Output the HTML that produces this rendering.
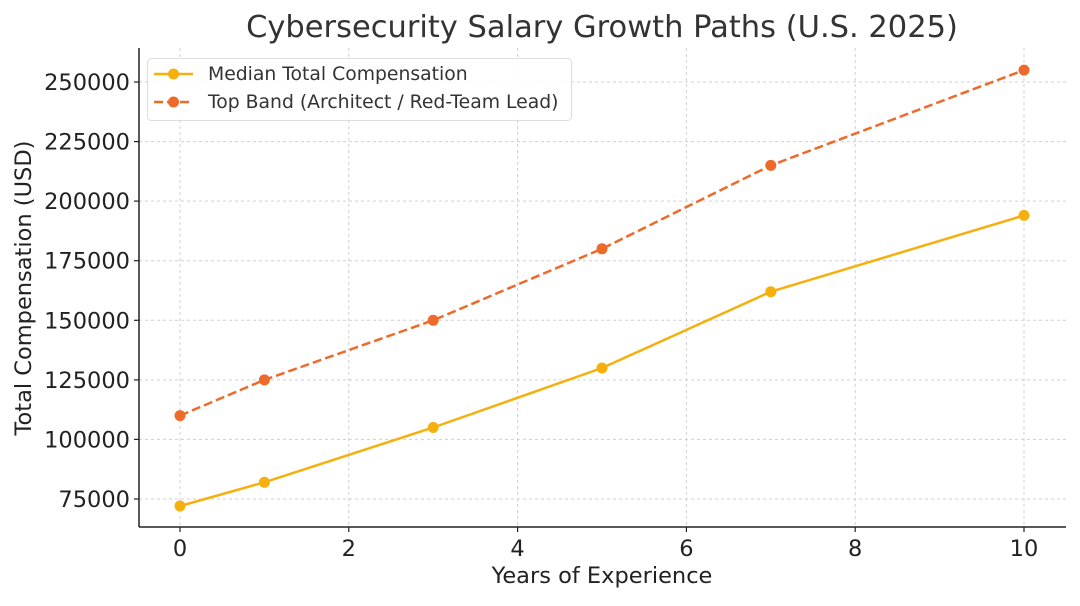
<!DOCTYPE html><html><head><style>body{margin:0;background:#fff}svg{font-family:"DejaVu Sans","Liberation Sans",sans-serif}</style></head><body>
<svg width="1080" height="601" xmlns="http://www.w3.org/2000/svg">
<text x="602" y="37" font-size="30.5" text-anchor="middle" fill="#333">Cybersecurity Salary Growth Paths (U.S. 2025)</text>
<g stroke="#d0d0d0" stroke-dasharray="3,3" stroke-width="1">
<line x1="180" y1="48" x2="180" y2="527"/><line x1="348.8" y1="48" x2="348.8" y2="527"/><line x1="517.6" y1="48" x2="517.6" y2="527"/><line x1="686.4" y1="48" x2="686.4" y2="527"/><line x1="855.2" y1="48" x2="855.2" y2="527"/><line x1="1024" y1="48" x2="1024" y2="527"/>
<line x1="139" y1="82" x2="1066" y2="82"/><line x1="139" y1="141.6" x2="1066" y2="141.6"/><line x1="139" y1="201.1" x2="1066" y2="201.1"/><line x1="139" y1="260.7" x2="1066" y2="260.7"/><line x1="139" y1="320.3" x2="1066" y2="320.3"/><line x1="139" y1="379.9" x2="1066" y2="379.9"/><line x1="139" y1="439.4" x2="1066" y2="439.4"/><line x1="139" y1="499" x2="1066" y2="499"/>
</g>
<g stroke="#222" stroke-width="1.5"><line x1="139" y1="48" x2="139" y2="527"/><line x1="139" y1="527" x2="1066" y2="527"/>
<g stroke-width="1.2"><line x1="180" y1="527" x2="180" y2="532"/><line x1="348.8" y1="527" x2="348.8" y2="532"/><line x1="517.6" y1="527" x2="517.6" y2="532"/><line x1="686.4" y1="527" x2="686.4" y2="532"/><line x1="855.2" y1="527" x2="855.2" y2="532"/><line x1="1024" y1="527" x2="1024" y2="532"/>
<line x1="134" y1="82" x2="139" y2="82"/><line x1="134" y1="141.6" x2="139" y2="141.6"/><line x1="134" y1="201.1" x2="139" y2="201.1"/><line x1="134" y1="260.7" x2="139" y2="260.7"/><line x1="134" y1="320.3" x2="139" y2="320.3"/><line x1="134" y1="379.9" x2="139" y2="379.9"/><line x1="134" y1="439.4" x2="139" y2="439.4"/><line x1="134" y1="499" x2="139" y2="499"/></g></g>
<g font-size="22.5" fill="#222" text-anchor="middle"><text x="180" y="556">0</text><text x="348.8" y="556">2</text><text x="517.6" y="556">4</text><text x="686.4" y="556">6</text><text x="855.2" y="556">8</text><text x="1024" y="556">10</text></g>
<g font-size="22.5" fill="#222" text-anchor="end"><text x="130" y="90">250000</text><text x="130" y="149.6">225000</text><text x="130" y="209.1">200000</text><text x="130" y="268.7">175000</text><text x="130" y="328.3">150000</text><text x="130" y="387.9">125000</text><text x="130" y="447.4">100000</text><text x="130" y="507">75000</text></g>
<text x="602" y="583" font-size="22.5" text-anchor="middle" fill="#222">Years of Experience</text>
<text transform="translate(31,288) rotate(-90)" font-size="22.5" text-anchor="middle" fill="#222">Total Compensation (USD)</text>
<polyline fill="none" stroke="#f5b00e" stroke-width="2.5" points="180,506 264.4,482.3 433.2,427.5 602,368 770.8,291.7 1024,215.4"/>
<g fill="#f5b00e"><circle cx="180" cy="506" r="5.5"/><circle cx="264.4" cy="482.3" r="5.5"/><circle cx="433.2" cy="427.5" r="5.5"/><circle cx="602" cy="368" r="5.5"/><circle cx="770.8" cy="291.7" r="5.5"/><circle cx="1024" cy="215.4" r="5.5"/></g>
<polyline fill="none" stroke="#ee6a2a" stroke-width="2.5" stroke-dasharray="9,4" points="180,415.6 264.4,379.9 433.2,320.3 602,248.8 770.8,165.4 1024,70.1"/>
<g fill="#ee6a2a"><circle cx="180" cy="415.6" r="5.5"/><circle cx="264.4" cy="379.9" r="5.5"/><circle cx="433.2" cy="320.3" r="5.5"/><circle cx="602" cy="248.8" r="5.5"/><circle cx="770.8" cy="165.4" r="5.5"/><circle cx="1024" cy="70.1" r="5.5"/></g>
<rect x="147.5" y="58.5" width="424" height="62" rx="4" fill="#fff" fill-opacity="0.85" stroke="#ddd"/>
<line x1="154" y1="74" x2="193" y2="74" stroke="#f5b00e" stroke-width="2.5"/><circle cx="173.5" cy="74" r="5.5" fill="#f5b00e"/>
<line x1="154" y1="102" x2="193" y2="102" stroke="#ee6a2a" stroke-width="2.5" stroke-dasharray="9,4"/><circle cx="173.5" cy="102" r="5.5" fill="#ee6a2a"/>
<text x="208" y="80" font-size="18.8" fill="#333">Median Total Compensation</text>
<text x="208" y="108" font-size="18.8" fill="#333">Top Band (Architect / Red-Team Lead)</text>
</svg></body></html>
